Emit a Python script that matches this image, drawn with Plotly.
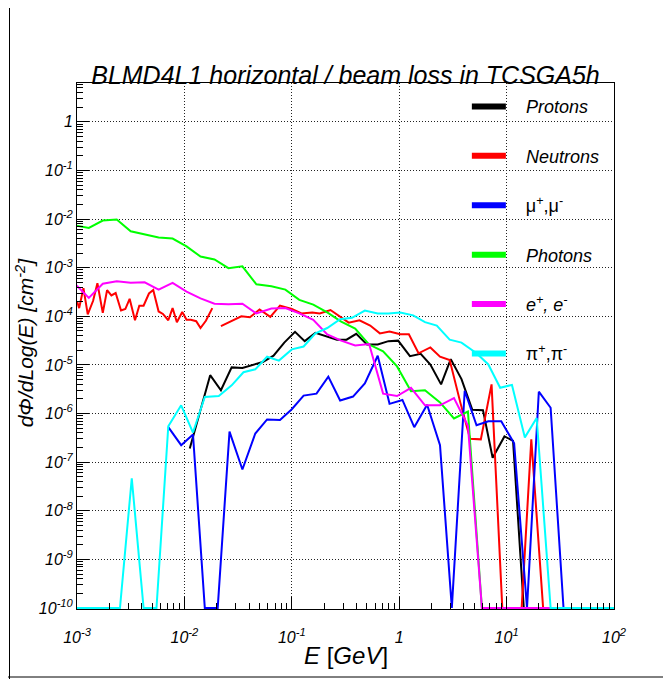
import numpy as np
import plotly.graph_objects as go

# Values are log10 of E [GeV] and log10 of dPhi/dLog(E) [cm^-2]; None = empty bin
protons_log_e = [-1.95, -1.86, -1.76, -1.66, -1.56, -1.46, -1.36, -1.27, -1.17, -1.07,
                 -0.97, -0.88, -0.78, -0.68, -0.58, -0.49, -0.40, -0.30, -0.20, -0.10,
                 -0.01, 0.10, 0.20, 0.29, 0.39, 0.48, 0.58, 0.68, 0.78, 0.87,
                 0.98, 1.06, 1.16, 2.0]
protons_log_flux = [-6.72, -5.98, -5.21, -5.52, -5.05, -5.06, -4.99, -4.94, -4.81, -4.54,
                    -4.32, -4.51, -4.34, -4.41, -4.48, -4.48, -4.36, -4.58, -4.58, -4.51,
                    -4.50, -4.82, -4.77, -4.99, -5.40, -4.88, -5.29, -5.92, -5.93, -6.91,
                    -6.47, -6.56, None, None]

# low-energy neutron groups (below 20 MeV)
neutrons_low_log_e = [-3.00, -2.98, -2.94, -2.90, -2.85, -2.81, -2.76, -2.72, -2.68, -2.64,
                      -2.59, -2.55, -2.51, -2.46, -2.42, -2.38, -2.33, -2.29, -2.24, -2.20,
                      -2.15, -2.11, -2.07, -2.02, -1.98, -1.94, -1.89, -1.85, -1.80, -1.74]
neutrons_low_log_flux = [-3.69, -3.83, -3.42, -3.96, -3.68, -3.32, -3.93, -3.46, -3.57, -3.52,
                         -3.88, -3.85, -3.64, -4.08, -3.78, -3.78, -3.53, -3.46, -3.90, -3.95,
                         -4.08, -3.83, -4.12, -3.91, -4.07, -4.07, -4.10, -4.24, -4.09, -3.83]
neutrons_log_e = [-1.66, -1.56, -1.47, -1.39, -1.30, -1.20, -1.11, -1.00, -0.91, -0.81,
                  -0.74, -0.64, -0.55, -0.47, -0.37, -0.27, -0.18, -0.09, 0.01, 0.09,
                  0.18, 0.29, 0.38, 0.47, 0.57, 0.66, 0.76, 0.86, 0.96, 1.05,
                  1.14, 1.23, 1.34, 2.0]
neutrons_log_flux = [-4.20, -4.10, -4.00, -4.02, -3.86, -4.01, -3.78, -3.85, -3.94, -3.92,
                     -3.94, -3.87, -4.01, -4.13, -4.08, -4.19, -4.35, -4.31, -4.37, -4.37,
                     -4.76, -4.64, -4.83, -4.90, -5.78, -6.52, -6.53, -5.40, None, None,
                     None, -6.53, None, None]

muons_log_e = [-2.15, -2.03, -1.92, -1.81, -1.69, -1.58, -1.46, -1.34, -1.23, -1.11,
               -1.00, -0.89, -0.77, -0.66, -0.55, -0.43, -0.32, -0.20, -0.09, 0.03,
               0.14, 0.26, 0.38, 0.49, 0.61, 0.72, 0.83, 0.95, 1.07, 1.19,
               1.30, 1.41, 1.53, 2.0]
muons_log_flux = [-6.28, -6.65, -6.43, None, None, -6.37, -7.15, -6.41, -6.12, -6.13,
                  -5.91, -5.63, -5.59, -5.24, -5.73, -5.65, -5.38, -4.81, -5.80, -5.72,
                  -6.28, -5.82, -6.65, None, -5.53, -6.24, -6.16, -6.16, -6.61, None,
                  -5.55, -5.88, None, None]

photons_log_e = [-3.02, -2.89, -2.76, -2.63, -2.50, -2.37, -2.24, -2.11, -1.98, -1.85,
                 -1.72, -1.59, -1.46, -1.33, -1.19, -1.06, -0.93, -0.80, -0.67, -0.54,
                 -0.41, -0.28, -0.15, -0.02, 0.11, 0.24, 0.38, 0.51, 0.64, 0.77, 2.0]
photons_log_flux = [-2.13, -2.18, -2.03, -2.01, -2.25, -2.32, -2.38, -2.40, -2.56, -2.77,
                    -2.83, -3.01, -2.97, -3.34, -3.38, -3.45, -3.66, -3.76, -3.92, -4.11,
                    -4.25, -4.58, -4.72, -5.03, -5.54, -5.52, -5.77, -6.10, -5.96, None, None]

electrons_log_e = photons_log_e
electrons_log_flux = [-3.33, -3.62, -3.33, -3.28, -3.31, -3.30, -3.45, -3.31, -3.49, -3.63,
                      -3.74, -3.75, -3.74, -3.94, -3.84, -3.83, -3.94, -4.07, -4.37, -4.50,
                      -4.60, -4.57, -5.59, -5.64, -5.47, -5.83, -5.83, -5.68, -6.25, None, None]

pions_log_e = [-3.03, -2.60, -2.49, -2.38, -2.26, -2.15, -2.03, -1.92, -1.81, -1.68,
               -1.56, -1.45, -1.34, -1.23, -1.12, -1.00, -0.89, -0.78, -0.67, -0.55,
               -0.44, -0.32, -0.20, -0.10, 0.01, 0.13, 0.24, 0.35, 0.47, 0.58,
               0.72, 0.83, 0.94, 1.05, 1.17, 1.28, 1.41, 2.0]
pions_log_flux = [None, None, -7.33, None, None, -6.26, -5.83, -6.39, -5.66, -5.64,
                  -5.42, -5.15, -5.09, -4.83, -4.91, -4.68, -4.62, -4.35, -4.24, -4.06,
                  -4.03, -3.88, -3.94, -3.94, -3.92, -3.98, -4.12, -4.19, -4.48, -4.54,
                  -4.76, -4.99, -5.47, -5.41, -6.49, -6.09, None, None]

x_tick_exp = [-3, -2, -1, 0, 1, 2]
y_tick_exp = [-10, -9, -8, -7, -6, -5, -4, -3, -2, -1, 0]

FLOOR = 1e-10  # empty bins sit on the axis minimum, like ROOT does on a log scale
FONT = "Liberation Sans"
# the page body has an 8px margin, so the figure is a bit smaller than the window
W, H = 663, 671
ML, MR, MT, MB = 69, 57, 75, 70
PW, PH = W - ML - MR, H - MT - MB


def to_xy(log_e, log_flux):
    x = [10 ** v for v in log_e]
    y = [FLOOR if v is None else 10 ** v for v in log_flux]
    return x, y


def exp_label(p):
    return "1" if p == 0 else f"10<sup>{p}</sup>"


GAP = "&nbsp;" * 3
series = [
    (GAP + "<i>Protons</i>", "#000000", [(protons_log_e, protons_log_flux)]),
    (GAP + "<i>Neutrons</i>", "#ff0000", [(neutrons_low_log_e, neutrons_low_log_flux),
                                          (neutrons_log_e, neutrons_log_flux)]),
    (GAP + "\u03bc<sup>+</sup>,\u03bc<sup>-</sup>", "#0000ff", [(muons_log_e, muons_log_flux)]),
    (GAP + "<i>Photons</i>", "#00ff00", [(photons_log_e, photons_log_flux)]),
    (GAP + "<i>e<sup>+</sup>, e<sup>-</sup></i>", "#ff00ff", [(electrons_log_e, electrons_log_flux)]),
    (GAP + "\u03c0<sup>+</sup>,\u03c0<sup>-</sup>", "#00ffff", [(pions_log_e, pions_log_flux)]),
]

fig = go.Figure()
for i, (name, color, parts) in enumerate(series):
    for log_e, log_flux in parts:
        x, y = to_xy(log_e, log_flux)
        fig.add_trace(go.Scatter(x=x, y=y, mode="lines", showlegend=False,
                                 line=dict(color=color, width=2)))
for i, (name, color, parts) in enumerate(series):
    # legend-only entry with the thick ROOT style marker line
    fig.add_trace(go.Scatter(x=[None], y=[None], mode="lines", name=name,
                             legendgroup=f"g{i}", line=dict(color=color, width=6)))

minor_x = [m * 10.0 ** p for p in range(-3, 2) for m in range(2, 10)]
minor_y = [m * 10.0 ** p for p in range(-10, 1) for m in range(2, 10)]

axis_common = dict(
    type="log", showline=True, linecolor="black", linewidth=1, mirror=True,
    ticks="inside", ticklen=12, tickcolor="black", tickwidth=1,
    showgrid=True, gridcolor="#222222", griddash="1px,2px", gridwidth=1,
    zeroline=False,
    tickfont=dict(family=FONT, size=16, color="black", style="italic"),
)

fig.update_xaxes(
    range=[-3, 2],
    tickvals=[10.0 ** p for p in x_tick_exp],
    ticktext=[exp_label(p) for p in x_tick_exp],
    minor=dict(tickvals=minor_x, ticks="inside", ticklen=6, tickcolor="black", showgrid=False),
    ticklabelstandoff=14,
    **axis_common,
)
fig.update_yaxes(
    range=[-10.02, 0.8],
    tickvals=[10.0 ** p for p in y_tick_exp],
    ticktext=[exp_label(p) for p in y_tick_exp],
    minor=dict(tickvals=minor_y, ticks="inside", ticklen=6, tickcolor="black", showgrid=False),
    **axis_common,
)


def px_x(x):
    return (x - ML) / PW


def px_y(y):
    return (H - MB - y) / PH


fig.update_layout(
    width=W, height=H,
    margin=dict(l=ML, r=MR, t=MT, b=MB),
    paper_bgcolor="white", plot_bgcolor="white",
    title=dict(text="BLMD4L1 horizontal / beam loss in TCSGA5h",
               font=dict(family=FONT, size=25, color="black", style="italic"),
               x=0.5, xref="paper", xanchor="center",
               y=1 - 67 / H, yref="container", yanchor="middle"),
    legend=dict(x=0.726, y=0.99, xanchor="left", yanchor="top",
                bgcolor="rgba(0,0,0,0)", borderwidth=0,
                font=dict(family=FONT, size=18, color="black"),
                tracegroupgap=23, itemwidth=34, traceorder="grouped"),
    annotations=[
        dict(text="<i>E</i> [<i>GeV</i>]", xref="paper", yref="paper",
             x=0.5, y=-0.0875, xanchor="center", yanchor="middle", showarrow=False,
             font=dict(family=FONT, size=24, color="black")),
        dict(text="<i>d\u03a6/dLog(E) [cm<sup>-2</sup>]</i>", xref="paper", yref="paper",
             x=px_x(17), y=0.507, xanchor="center", yanchor="middle", showarrow=False,
             textangle=-90, font=dict(family=FONT, size=21, color="black")),
    ],
    shapes=[
        # canvas border (left and bottom edges)
        dict(type="line", xref="paper", yref="paper", x0=px_x(0), x1=px_x(W), y0=px_y(669), y1=px_y(669),
             line=dict(color="black", width=1)),
        dict(type="line", xref="paper", yref="paper", x0=px_x(1.5), x1=px_x(1.5), y0=px_y(H), y1=px_y(0),
             line=dict(color="black", width=1)),
    ],
)

fig.write_html("out.html")
